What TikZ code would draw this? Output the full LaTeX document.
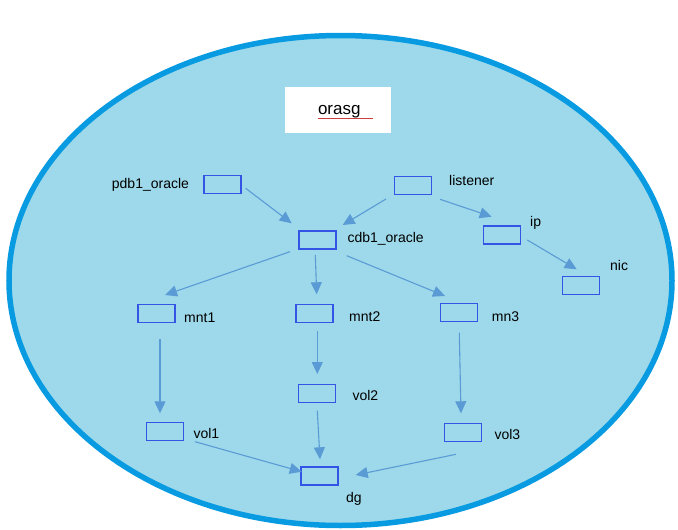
\documentclass[tikz,border=0pt]{standalone}
\usepackage{fontspec}
\setmainfont{Liberation Sans}
\usetikzlibrary{arrows.meta}
\definecolor{ringblue}{RGB}{8,155,226}
\definecolor{ringfill}{RGB}{157,217,234}
\definecolor{boxblue}{RGB}{52,84,230}
\definecolor{arrblue}{RGB}{91,155,213}
\definecolor{ulred}{RGB}{208,60,60}
\tikzset{
  rbox/.style={draw=boxblue, line width=1.6pt, rectangle, minimum width=37pt, minimum height=18pt, inner sep=0pt},
  lbl/.style={anchor=base west, inner sep=0pt, font=\fontsize{14}{16}\selectfont},
  arr/.style={draw=arrblue, line width=1.1pt, -{Triangle[length=12pt,width=11pt]}},
}
\begin{document}
\begin{tikzpicture}[x=1pt,y=-1pt]
\useasboundingbox (0,0) rectangle (678,530);
\fill[white] (0,0) rectangle (678,530);
\draw[line width=5.5pt, draw=ringblue, fill=ringfill] (340.5,280.5) ellipse [x radius=331.5, y radius=245];
% title
\node[fill=white, minimum width=105.7pt, minimum height=46pt, inner sep=0pt] (titlebox) at (338,110.3) {};
\node[anchor=base, inner sep=0pt, font=\fontsize{17}{20}\selectfont] (title) at (339.3,114) {orasg};
\draw[ulred, line width=1.5pt] (317.7,118.5) -- (373.3,118.5);
% boxes
\node[rbox] (P) at (222.5,184.5) {};
\node[rbox] (L) at (413,185.5) {};
\node[rbox] (C) at (317.2,239.7) {};
\node[rbox] (I) at (502,234.7) {};
\node[rbox] (N) at (581,285.5) {};
\node[rbox] (M1) at (156.2,313.3) {};
\node[rbox] (M2) at (314.7,313.3) {};
\node[rbox] (M3) at (459,312.3) {};
\node[rbox] (V2) at (317,393.3) {};
\node[rbox] (V1) at (164.8,431.5) {};
\node[rbox] (V3) at (462.8,432.5) {};
\node[rbox] (D) at (319.5,475.8) {};
% labels
\node[lbl] (Pl) at (111.7,188) {pdb1\_oracle};
\node[lbl] (Ll) at (449,185) {listener};
\node[lbl] (Cl) at (347.3,242.3) {cdb1\_oracle};
\node[lbl] (Il) at (530,226.5) {ip};
\node[lbl] (Nl) at (610,270) {nic};
\node[lbl] (M1l) at (184,322.7) {mnt1};
\node[lbl] (M2l) at (349,321) {mnt2};
\node[lbl] (M3l) at (491.7,321.7) {mn3};
\node[lbl] (V2l) at (352.3,400.7) {vol2};
\node[lbl] (V1l) at (193.3,438.3) {vol1};
\node[lbl] (V3l) at (494.3,439) {vol3};
\node[lbl] (Dl) at (346,502) {dg};
% arrows
\draw[arr] ([shift={(23.2,3.8)}]P.center) -- ([shift={(-25.5,-16.4)}]C.center);
\draw[arr] ([shift={(-27,13.5)}]L.center) -- ([shift={(25.5,-14.7)}]C.center);
\draw[arr] ([shift={(27,13.8)}]L.center) -- ([shift={(-10.3,-18)}]I.center);
\draw[arr] ([shift={(25.3,5.3)}]I.center) -- ([shift={(-4.3,-16.2)}]N.center);
\draw[arr] ([shift={(-27.2,12)}]C.center) -- ([shift={(8.8,-18.3)}]M1.center);
\draw[arr] ([shift={(-1.9,15.3)}]C.center) -- ([shift={(2,-19)}]M2.center);
\draw[arr] ([shift={(29.5,16)}]C.center) -- ([shift={(-14,-16.3)}]M3.center);
\draw[arr] ([shift={(3.8,26)}]M1.center) -- ([shift={(-4.8,-18.2)}]V1.center);
\draw[arr] ([shift={(2.6,17.7)}]M2.center) -- ([shift={(0.3,-19.3)}]V2.center);
\draw[arr] ([shift={(0.3,20.4)}]M3.center) -- ([shift={(-1.8,-19.2)}]V3.center);
\draw[arr] ([shift={(0.3,17.4)}]V2.center) -- ([shift={(0.5,-16.5)}]D.center);
\draw[arr] ([shift={(30.2,10.2)}]V1.center) -- ([shift={(-17.8,-4.1)}]D.center);
\draw[arr] ([shift={(-6.8,21.8)}]V3.center) -- ([shift={(36.2,-0.8)}]D.center);
\end{tikzpicture}
\end{document}
